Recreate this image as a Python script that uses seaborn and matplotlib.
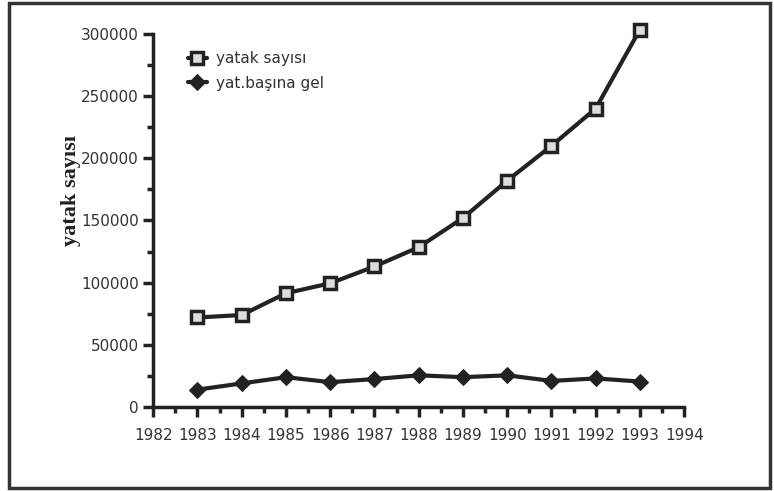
import numpy as np
import pandas as pd
import matplotlib
matplotlib.use("Agg")
import matplotlib.pyplot as plt
import seaborn as sns
from matplotlib.patches import Rectangle
from matplotlib.ticker import MultipleLocator

years = [1983, 1984, 1985, 1986, 1987, 1988, 1989, 1990, 1991, 1992, 1993]
yatak_sayisi = [72000, 74000, 91500, 99500, 113000, 128500, 152000, 182000, 210000, 240000, 303500]
yat_basina_gel = [14000, 19000, 24000, 20000, 22500, 25500, 24000, 25500, 21000, 23000, 20500]

sns.set_style("ticks")
plt.rcParams['font.family'] = ['DejaVu Sans']

fig = plt.figure(figsize=(7.74, 4.91), dpi=100)
ax = fig.add_axes([0.198, 0.171, 0.686, 0.760])

sns.lineplot(x=years, y=yatak_sayisi, ax=ax, color="#222222", linewidth=3,
             marker="s", markersize=8, markerfacecolor="#dddddd",
             markeredgecolor="#222222", markeredgewidth=2.5, label="yatak sayısı",
             clip_on=False)
sns.lineplot(x=years, y=yat_basina_gel, ax=ax, color="#222222", linewidth=3,
             marker="D", markersize=8, markerfacecolor="#222222",
             markeredgecolor="#222222", label="yat.başına gel", clip_on=False)

ax.set_xlim(1982, 1994)
ax.set_ylim(0, 300000)
ax.xaxis.set_major_locator(MultipleLocator(1))
ax.xaxis.set_minor_locator(MultipleLocator(0.5))
ax.yaxis.set_major_locator(MultipleLocator(50000))
ax.yaxis.set_minor_locator(MultipleLocator(25000))
ax.ticklabel_format(style="plain", axis="y")
sns.despine(ax=ax)
for s in ["left", "bottom"]:
    ax.spines[s].set_linewidth(2.5)
    ax.spines[s].set_color("#222222")
ax.tick_params(axis="both", which="major", width=2.5, length=7, color="#222222",
               labelsize=11, labelcolor="#333333")
ax.tick_params(axis="both", which="minor", width=2.5, length=4, color="#222222")
ax.tick_params(axis="x", pad=8)

ax.set_ylabel("yatak sayısı", fontsize=16, fontweight="bold",
              family=["Liberation Serif", "DejaVu Serif"], color="#222222")
ax.yaxis.set_label_coords(-0.136, 0.58)
ax.set_xlabel("")

leg = ax.legend(loc="upper left", bbox_to_anchor=(0.04, 0.99), frameon=False,
                fontsize=11, handlelength=1.2, handletextpad=0.6, labelspacing=0.6)
for t in leg.get_texts():
    t.set_color("#333333")

fig.patches.append(Rectangle((0.011, 0.006), 0.984, 0.988, transform=fig.transFigure,
                             fill=False, edgecolor="#333333", linewidth=2.5))

fig.savefig("out.png", dpi=100)
